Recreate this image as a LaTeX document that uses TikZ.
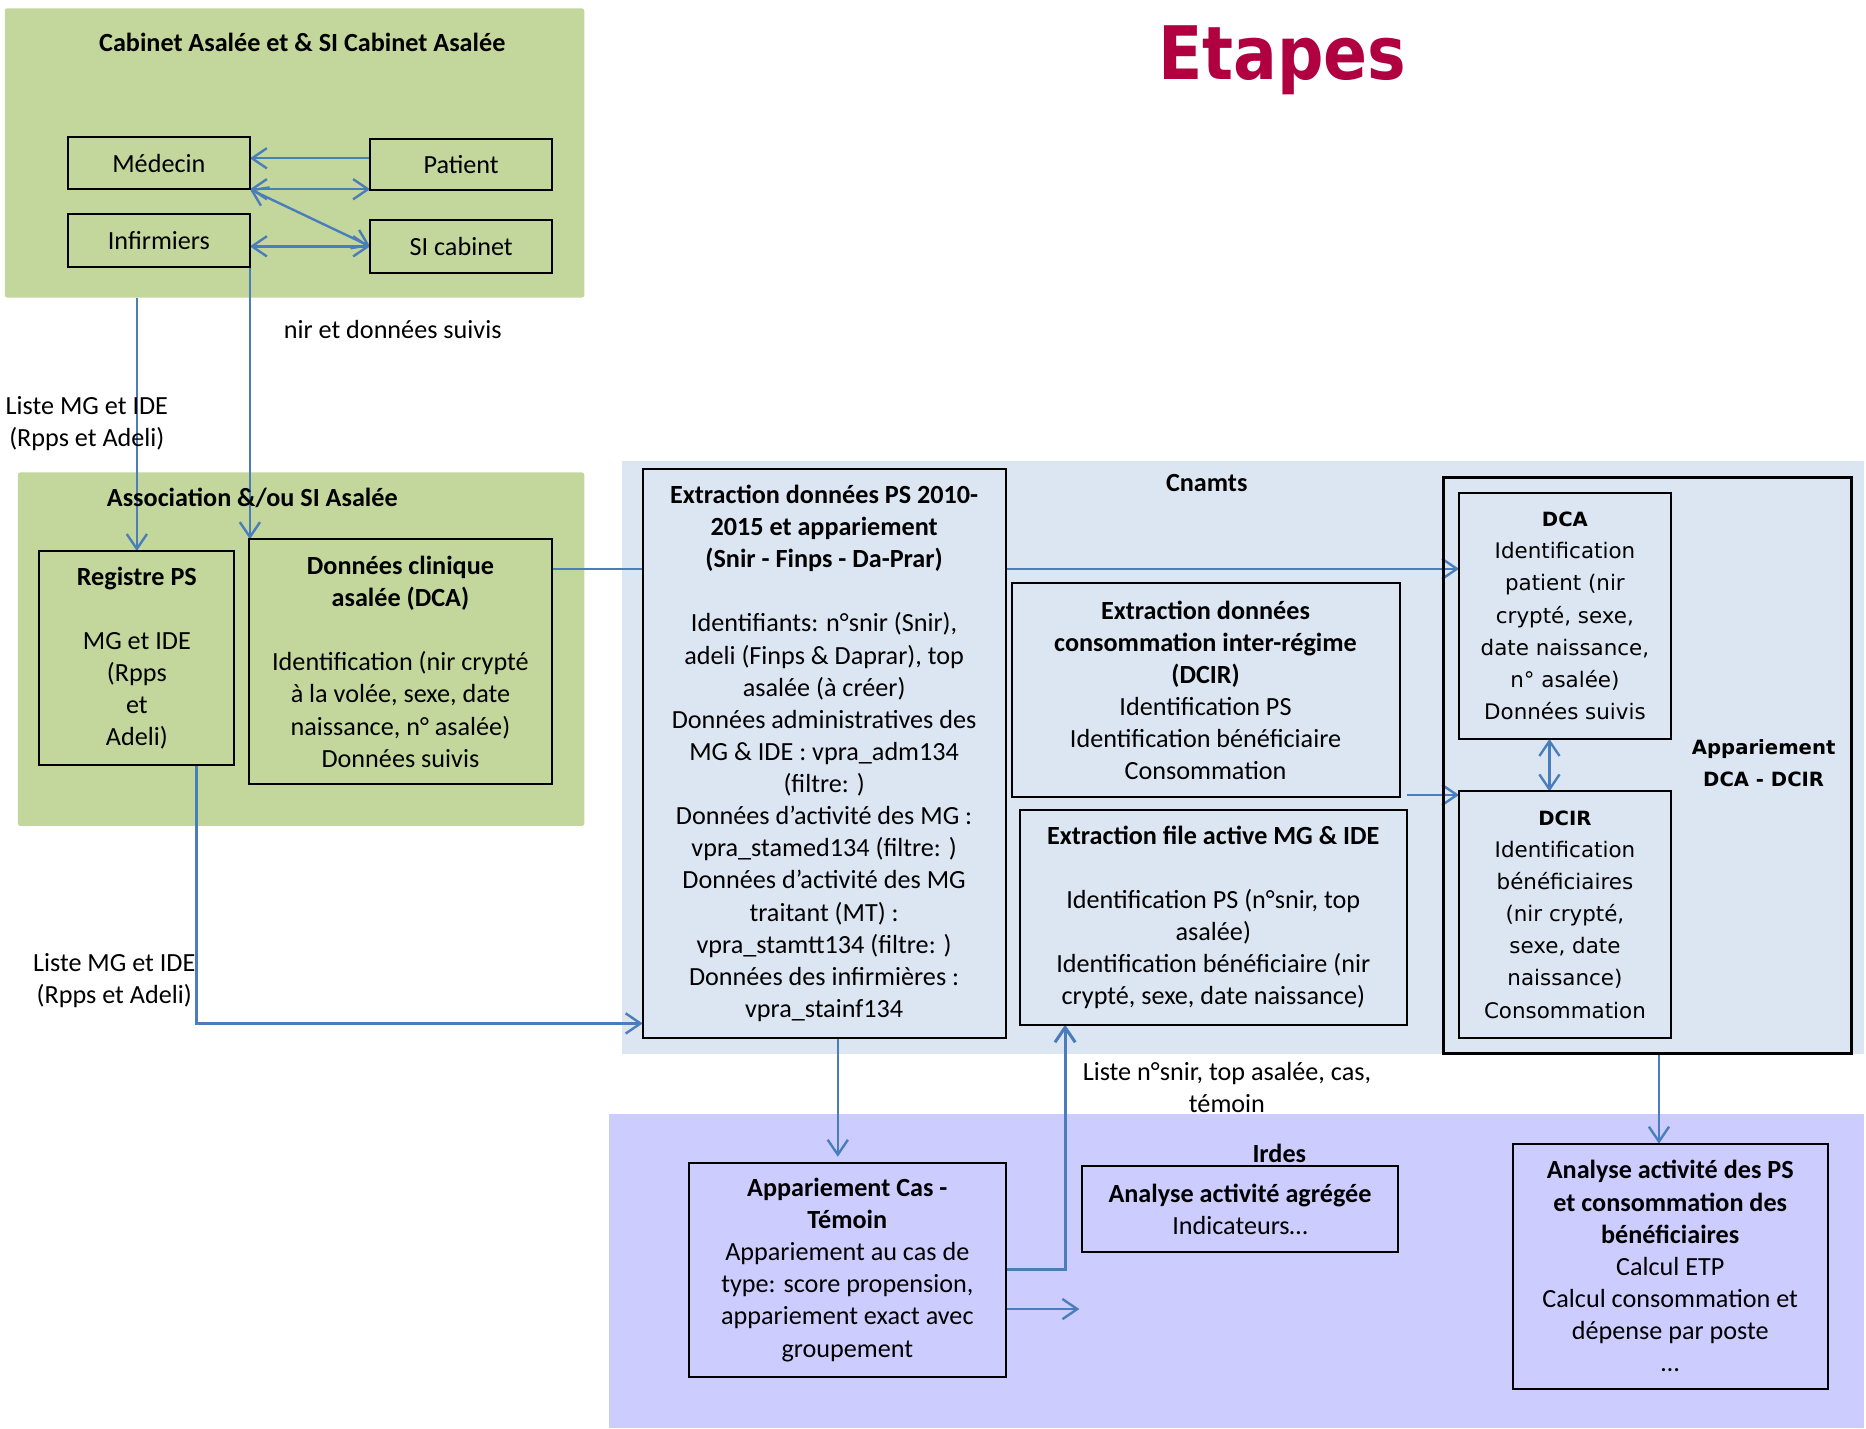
\documentclass[tikz,border=0pt]{standalone}
\usepackage{fontspec}
\setmainfont{Carlito}
\newfontfamily\dvfont{DejaVu Sans}
\newfontfamily\etapfont{DejaVu Sans}[FakeStretch=0.88]
\usetikzlibrary{arrows.meta}
\definecolor{grn}{HTML}{C3D69B}
\definecolor{lblue}{HTML}{DCE6F2}
\definecolor{lav}{HTML}{CCCCFF}
\definecolor{arrblue}{HTML}{4A7EBB}
\definecolor{crim}{HTML}{B0003F}
\pgfdeclarelayer{regions}
\pgfdeclarelayer{links}
\pgfsetlayers{regions,links,main}
\begin{document}
\begin{tikzpicture}[x=1pt,y=-1pt,
  every node/.style={font=\fontsize{22}{27}\selectfont},
  region/.style={draw=none, inner sep=0pt, outer sep=0pt},
  box/.style={draw=black, line width=1.7pt, align=center, inner sep=0pt, outer sep=0pt},
  dvbox/.style={box, font=\dvfont\fontsize{18}{27}\selectfont},
  lbl/.style={align=center, inner sep=0pt},
  conn/.style={draw=arrblue, line width=2pt},
  >={Straight Barb[length=12.5pt,width=17pt]},
]
\useasboundingbox (0,0) rectangle (1568,1200);

\begin{pgfonlayer}{regions}
\node[region, fill=grn, rounded corners=2pt, minimum width=487, minimum height=243] (g1) at (247.5,128.5) {};
\node[region, fill=grn, rounded corners=2pt, minimum width=476, minimum height=297] (g2) at (253,545.5) {};
\node[region, fill=lblue, minimum width=1043, minimum height=499] (cn) at (1044.5,636.5) {};
\node[region, fill=lav, minimum width=1054, minimum height=264] (ird) at (1039,1068) {};
\end{pgfonlayer}

% titles and labels
\node[font=\etapfont\bfseries\fontsize{62}{70}\selectfont, text=crim, anchor=base, inner sep=0pt] (etapes) at (1077.5,67) {Etapes};
\node[lbl, font=\bfseries\fontsize{22}{27}\selectfont] (t1) at (254,36) {Cabinet Asalée et \& SI Cabinet Asalée};
\node[lbl, font=\bfseries\fontsize{22}{27}\selectfont] (t2) at (212,418) {Association \&/ou SI Asalée};
\node[lbl, font=\bfseries\fontsize{22}{27}\selectfont] (t3) at (1014,406) {Cnamts};
\node[lbl, font=\bfseries\fontsize{22}{27}\selectfont] (t4) at (1075,969) {Irdes};
\node[lbl, font=\dvfont\bfseries\fontsize{16.5}{27}\selectfont] (t5) at (1482,641) {Appariement\\DCA - DCIR};
\node[lbl] (l1) at (330,277) {nir et données suivis};
\node[lbl] (l2) at (73,356) {Liste MG et IDE\\(Rpps et Adeli)};
\node[lbl] (l3) at (96,824) {Liste MG et IDE\\(Rpps et Adeli)};
\node[lbl] (l4) at (1031,914) {Liste n°snir, top asalée, cas,\\témoin};

% boxes
\node[box, minimum width=153, minimum height=44] (med) at (133.5,137) {Médecin};
\node[box, minimum width=153, minimum height=43] (pat) at (387.5,138.5) {Patient};
\node[box, minimum width=153, minimum height=44] (inf) at (133.5,202) {Infirmiers};
\node[box, minimum width=153, minimum height=44] (sic) at (387.5,207) {SI cabinet};

\node[box, fill=grn, minimum width=164, minimum height=180] (reg) at (115,553)
  {\textbf{Registre PS}\\[27pt]MG et IDE\\(Rpps\\et\\Adeli)};
\node[box, fill=grn, minimum width=255, minimum height=206] (dca1) at (336.5,556)
  {\textbf{Données clinique}\\\textbf{asalée (DCA)}\\[27pt]Identification (nir crypté\\à la volée, sexe, date\\naissance, n° asalée)\\Données suivis};

\node[box, fill=lblue, minimum width=305, minimum height=478] (ext) at (692.5,633)
  {\textbf{Extraction données PS 2010-}\\\textbf{2015 et appariement}\\\textbf{(Snir - Finps - Da-Prar)}\\[27pt]Identifiants: n°snir (Snir),\\adeli (Finps \& Daprar), top\\asalée (à créer)\\Données administratives des\\MG \& IDE : vpra\_adm134\\(filtre: )\\Données d’activité des MG :\\vpra\_stamed134 (filtre: )\\Données d’activité des MG\\traitant (MT) :\\vpra\_stamtt134 (filtre: )\\Données des infirmières :\\vpra\_stainf134};
\node[box, fill=lblue, minimum width=326, minimum height=180] (dcirx) at (1013,580)
  {\textbf{Extraction données}\\\textbf{consommation inter-régime}\\\textbf{(DCIR)}\\Identification PS\\Identification bénéficiaire\\Consommation};
\node[box, fill=lblue, minimum width=325, minimum height=180] (fa) at (1019.5,771)
  {\textbf{Extraction file active MG \& IDE}\\[27pt]Identification PS (n°snir, top\\asalée)\\Identification bénéficiaire (nir\\crypté, sexe, date naissance)};

\node[box, line width=2.5pt, minimum width=343, minimum height=484] (app) at (1384.5,643) {};
\node[dvbox, fill=lblue, minimum width=178, minimum height=207] (dca2) at (1315,517.5)
  {{\bfseries\fontsize{16.5}{27}\selectfont DCA}\\Identification\\patient (nir\\crypté, sexe,\\date naissance,\\n° asalée)\\Données suivis};
\node[dvbox, fill=lblue, minimum width=178, minimum height=207] (dcir) at (1315,768.5)
  {{\bfseries\fontsize{16.5}{27}\selectfont DCIR}\\Identification\\bénéficiaires\\(nir crypté,\\sexe, date\\naissance)\\Consommation};

\node[box, fill=lav, minimum width=266, minimum height=180] (cas) at (712,1067)
  {\textbf{Appariement Cas -}\\\textbf{Témoin}\\Appariement au cas de\\type: score propension,\\appariement exact avec\\groupement};
\node[box, fill=lav, minimum width=266, minimum height=72] (agr) at (1042,1016)
  {\textbf{Analyse activité agrégée}\\Indicateurs…};
\node[box, fill=lav, minimum width=265, minimum height=206] (ana) at (1403.5,1064)
  {\textbf{Analyse activité des PS}\\\textbf{et consommation des}\\\textbf{bénéficiaires}\\Calcul ETP\\Calcul consommation et\\dépense par poste\\…};

\coordinate (c1) at (1182,668);
\coordinate (c2) at (907,1100);

\begin{pgfonlayer}{links}
\draw[conn,->] (pat.west |- 0,133) -- (med.east |- 0,133);
\draw[conn,<->] (med.south east) -- (pat.south west |- med.south east);
\draw[conn,<->] (med.south east) -- (sic.west);
\draw[conn,<->] (inf.east |- sic.west) -- (sic.west);
\draw[conn,->] (reg.north |- g1.south) -- (reg.north);
\draw[conn,->] (inf.south east) -- (inf.south east |- dca1.north);
\draw[conn,->] (dca1.east |- 0,478) -- (dca2.west |- 0,478);
\draw[conn,->] (c1) -- (dcir.west |- c1);
\draw[conn,<->] (dca2.south -| 1302,0) -- (dcir.north -| 1302,0);
\draw[conn,->] (reg.south -| 165,0) |- (ext.west |- 0,860);
\draw[conn,->,shorten >=5pt] (ext.south -| 704,0) -- (cas.north -| 704,0);
\draw[conn,->,line width=2.6pt] (cas.east |- 0,1067) -| (fa.south -| 895,0);
\draw[conn,->] (cas.east |- c2) -- (c2);
\draw[conn,->] (app.south -| 1394,0) -- (ana.north -| 1394,0);
\end{pgfonlayer}
\end{tikzpicture}
\end{document}
